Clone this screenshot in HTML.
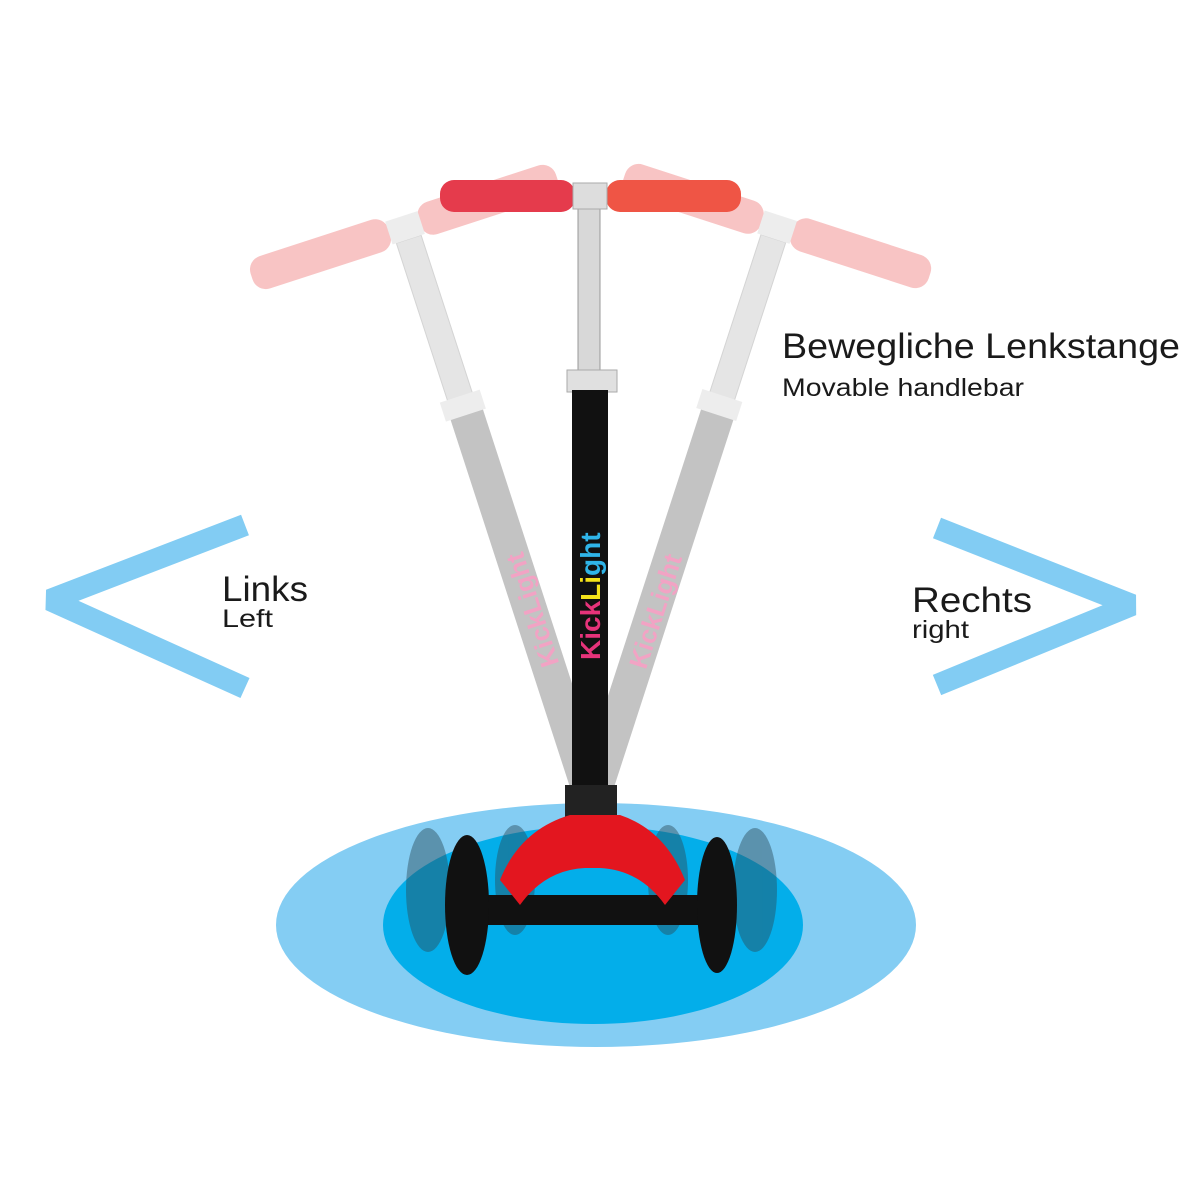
<!DOCTYPE html>
<html><head><meta charset="utf-8"><style>
html,body{margin:0;padding:0;background:#fff;}
svg{display:block}
text{font-family:"Liberation Sans",sans-serif;fill:#1a1a1a}
</style></head><body>
<svg width="1200" height="1200" viewBox="0 0 1200 1200" xmlns="http://www.w3.org/2000/svg">
<rect width="1200" height="1200" fill="#fff"/>
<ellipse cx="596" cy="925" rx="320" ry="122" fill="#84cdf3"/>
<ellipse cx="593" cy="925" rx="210" ry="99" fill="#03aeea"/>
<polyline points="245,525 50,600 245,688" fill="none" stroke="#82ccf3" stroke-width="22" stroke-linejoin="bevel"/>
<polyline points="937,528 1132,605 937,685" fill="none" stroke="#82ccf3" stroke-width="22" stroke-linejoin="bevel"/>
<text x="782" y="358" font-size="35" textLength="398" lengthAdjust="spacingAndGlyphs">Bewegliche Lenkstange</text>
<text x="782" y="396" font-size="25" textLength="242" lengthAdjust="spacingAndGlyphs">Movable handlebar</text>
<text x="222" y="601" font-size="35" textLength="86" lengthAdjust="spacingAndGlyphs">Links</text>
<text x="222" y="627" font-size="25" textLength="51" lengthAdjust="spacingAndGlyphs">Left</text>
<text x="912" y="612" font-size="35" textLength="120" lengthAdjust="spacingAndGlyphs">Rechts</text>
<text x="912" y="638" font-size="25" textLength="57" lengthAdjust="spacingAndGlyphs">right</text>

<g opacity="0.5" transform="rotate(-18 592 800)">
  <rect x="575" y="390" width="34" height="410" fill="#888"/>
  <rect x="578" y="210" width="26" height="180" fill="#ccc" stroke="#aaa"/>
  <rect x="570" y="375" width="42" height="20" fill="#ddd"/>
  <rect x="430" y="180" width="145" height="34" rx="14" fill="#f28a8a"/>
  <rect x="606" y="180" width="145" height="34" rx="14" fill="#f28a8a"/>
  <rect x="574" y="186" width="34" height="24" fill="#ddd"/>
  <text x="0" y="0" font-size="26" font-weight="bold" transform="translate(603 660) rotate(-90)" style="fill:#e64a8a">KickLight</text>
</g>
<g opacity="0.5" transform="rotate(18 592 800)">
  <rect x="575" y="390" width="34" height="410" fill="#888"/>
  <rect x="578" y="210" width="26" height="180" fill="#ccc" stroke="#aaa"/>
  <rect x="570" y="375" width="42" height="20" fill="#ddd"/>
  <rect x="430" y="180" width="145" height="34" rx="14" fill="#f28a8a"/>
  <rect x="606" y="180" width="145" height="34" rx="14" fill="#f28a8a"/>
  <rect x="574" y="186" width="34" height="24" fill="#ddd"/>
  <text x="0" y="0" font-size="26" font-weight="bold" transform="translate(603 660) rotate(-90)" style="fill:#e64a8a">KickLight</text>
</g>

<g opacity="0.45">
<ellipse cx="428" cy="890" rx="22" ry="62" fill="#2b4b5a"/>
<ellipse cx="515" cy="880" rx="20" ry="55" fill="#2b4b5a"/>
<ellipse cx="668" cy="880" rx="20" ry="55" fill="#2b4b5a"/>
<ellipse cx="755" cy="890" rx="22" ry="62" fill="#2b4b5a"/>
</g>

<rect x="578" y="205" width="22" height="175" fill="#d8d8d8" stroke="#999"/>
<rect x="567" y="370" width="50" height="22" fill="#e0e0e0" stroke="#aaa"/>
<rect x="572" y="390" width="36" height="410" fill="#111"/>
<text x="0" y="0" font-size="28" font-weight="bold" transform="translate(600 660) rotate(-90)" style="fill:#e6337a">Kick<tspan style="fill:#f5e31a">Li</tspan><tspan style="fill:#2fb4e8">ght</tspan></text>
<rect x="565" y="785" width="52" height="40" fill="#222"/>
<rect x="440" y="180" width="135" height="32" rx="14" fill="#e53b4c"/>
<rect x="606" y="180" width="135" height="32" rx="14" fill="#ef5545"/>
<rect x="573" y="183" width="34" height="26" fill="#ddd" stroke="#aaa"/>
<rect x="470" y="895" width="250" height="30" fill="#111"/>
<ellipse cx="467" cy="905" rx="22" ry="70" fill="#111"/>
<ellipse cx="717" cy="905" rx="20" ry="68" fill="#111"/>
<path d="M500,880 Q520,830 570,815 L620,815 Q665,830 685,880 L665,905 Q640,870 600,868 L585,868 Q545,870 520,905 Z" fill="#e3161f"/>
</svg>
</body></html>
